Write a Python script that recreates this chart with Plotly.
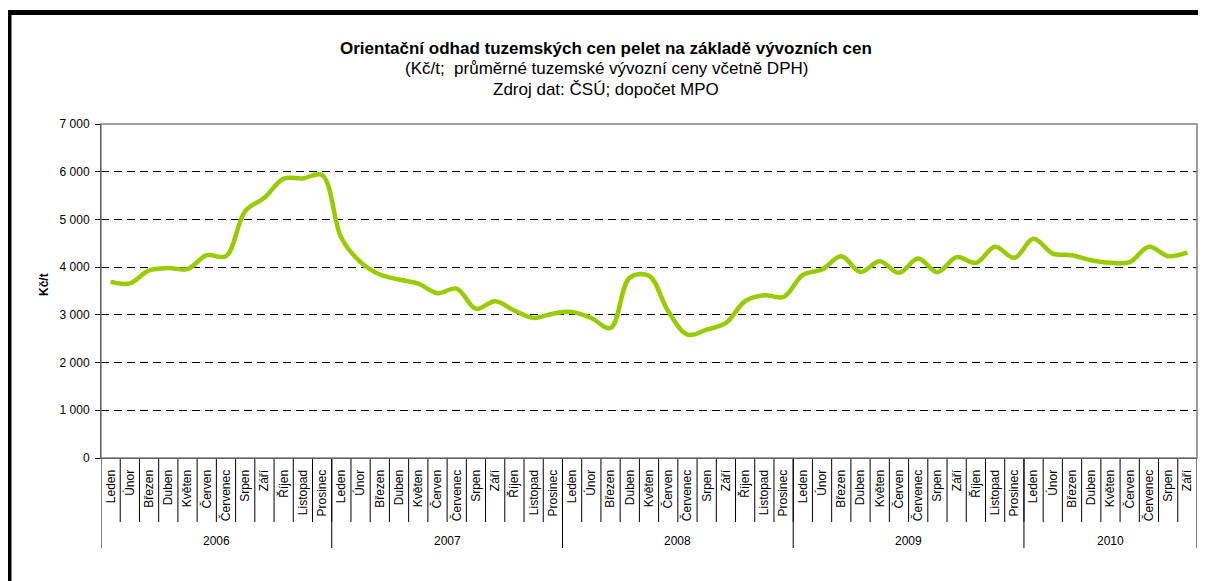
import plotly.graph_objects as go

months = ["Leden", "Únor", "Březen", "Duben", "Květen", "Červen", "Červenec",
          "Srpen", "Září", "Říjen", "Listopad", "Prosinec"]
years = ["2006", "2007", "2008", "2009", "2010"]
months_per_year = [12, 12, 12, 12, 9]

# Kč/t
prices_2006 = [3690, 3660, 3930, 3980, 3960, 4250, 4230, 5175, 5455, 5855, 5860, 5930]
prices_2007 = [4615, 4105, 3845, 3740, 3655, 3455, 3550, 3125, 3285, 3090, 2935, 3025]
prices_2008 = [3060, 2935, 2725, 3780, 3820, 3075, 2585, 2690, 2830, 3285, 3410, 3375]
prices_2009 = [3835, 3950, 4230, 3900, 4125, 3880, 4180, 3895, 4210, 4090, 4425, 4195]
prices_2010 = [4595, 4285, 4250, 4145, 4090, 4105, 4425, 4230, 4310]

y_ticks = [0, 1000, 2000, 3000, 4000, 5000, 6000, 7000]

prices = prices_2006 + prices_2007 + prices_2008 + prices_2009 + prices_2010
month_labels = []
for n in months_per_year:
    month_labels += months[:n]
x = list(range(len(prices)))

FONT = "Liberation Sans, Arial, sans-serif"
W, H = 1206, 581
OFF = 8  # page body margin
# plot area on the page: x 101..1197, y 124..458
L, T = 101 - OFF, 124 - OFF
R, B = W - (1197 - OFF), H - (458 - OFF)
pw, ph = W - L - R, H - T - B


def px_x(p):  # page pixel -> paper x
    return (p - OFF - L) / pw


def px_y(p):  # page pixel -> paper y
    return (H - B - (p - OFF)) / ph


fig = go.Figure(go.Scatter(
    x=x, y=prices,
    mode="lines",
    line=dict(color="#99CC00", width=4.5, shape="spline", smoothing=1),
    hoverinfo="y",
))

shapes = []
# month separators below the axis
for i in range(1, len(prices)):
    shapes.append(dict(type="line", xref="x", yref="paper", x0=i - 0.5, x1=i - 0.5,
                       y0=0, y1=px_y(522), line=dict(color="black", width=1)))
# year dividers
edge = -0.5
shapes.append(dict(type="line", xref="x", yref="paper", x0=edge, x1=edge,
                   y0=0, y1=px_y(548), line=dict(color="black", width=1)))
for n in months_per_year:
    edge += n
    shapes.append(dict(type="line", xref="x", yref="paper", x0=edge, x1=edge,
                       y0=0, y1=px_y(548), line=dict(color="black", width=1)))
# grey plot area border (top + right)
shapes.append(dict(type="rect", xref="paper", yref="paper", x0=0, x1=1, y0=0, y1=1,
                   line=dict(color="#808080", width=1.5)))
# outer chart frame
shapes.append(dict(type="rect", xref="paper", yref="paper",
                   x0=px_x(9), x1=px_x(1240), y0=px_y(640), y1=px_y(12.5),
                   line=dict(color="black", width=5)))

annotations = []
# year labels
start = 0
for yr, n in zip(years, months_per_year):
    annotations.append(dict(text=yr, xref="x", yref="paper", x=start + (n - 1) / 2,
                            y=px_y(541), showarrow=False, xanchor="center", yanchor="middle",
                            font=dict(family=FONT, size=12, color="black")))
    start += n

cx = px_x(606)
annotations += [
    dict(text="<b>Orientační odhad tuzemských cen pelet na základě vývozních cen</b>",
         xref="paper", yref="paper", x=cx, y=px_y(48), showarrow=False,
         xanchor="center", yanchor="middle",
         font=dict(family=FONT, size=17, color="black")),
    dict(text="(Kč/t;  průměrné tuzemské vývozní ceny včetně DPH)",
         xref="paper", yref="paper", x=cx, y=px_y(68.5), showarrow=False,
         xanchor="center", yanchor="middle",
         font=dict(family=FONT, size=17, color="black")),
    dict(text="Zdroj dat: ČSÚ; dopočet MPO",
         xref="paper", yref="paper", x=cx, y=px_y(89), showarrow=False,
         xanchor="center", yanchor="middle",
         font=dict(family=FONT, size=17, color="black")),
    dict(text="<b>Kč/t</b>", xref="paper", yref="paper", x=px_x(44), y=px_y(285),
         showarrow=False, textangle=-90, xanchor="center", yanchor="middle",
         font=dict(family=FONT, size=12, color="black")),
]

fig.update_layout(
    width=W, height=H,
    margin=dict(l=L, r=R, t=T, b=B),
    paper_bgcolor="white",
    plot_bgcolor="white",
    showlegend=False,
    separators=", ",
    font=dict(family=FONT, size=12, color="black"),
    shapes=shapes,
    annotations=annotations,
    xaxis=dict(
        range=[-0.5, len(prices) - 0.5],
        tickmode="array", tickvals=x, ticktext=month_labels,
        tickangle=-90, ticks="", ticklabelstandoff=6,
        showgrid=False, zeroline=False,
        showline=True, linecolor="black", linewidth=1,
        tickfont=dict(family=FONT, size=12, color="black"),
        fixedrange=True,
    ),
    yaxis=dict(
        range=[0, 7000],
        tickmode="array", tickvals=y_ticks, tickformat=",d",
        ticks="outside", ticklen=5, tickcolor="black", ticklabelstandoff=3,
        showgrid=True, gridcolor="black", gridwidth=1, griddash="8px,5px",
        zeroline=False,
        showline=True, linecolor="black", linewidth=1,
        tickfont=dict(family=FONT, size=12, color="black"),
        fixedrange=True,
    ),
)

fig.write_html("out.html")
